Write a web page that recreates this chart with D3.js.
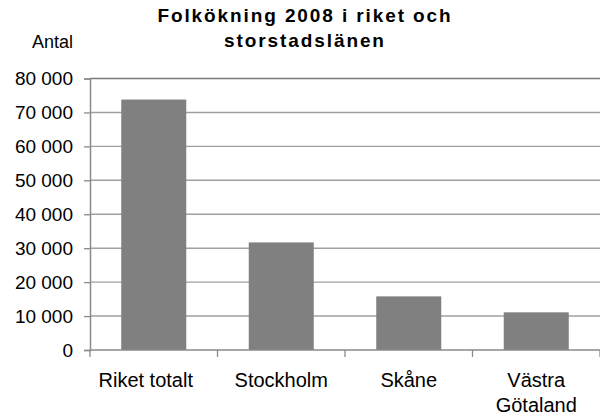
<!DOCTYPE html>
<html lang="sv">
<head>
    <meta charset="UTF-8">
    <title>Folkökning 2008 i riket och storstadslänen</title>
    <script src="https://d3js.org/d3.v7.min.js"></script>
    <style>
        body {
            margin: 0;
            background: #fff;
        }
        svg text {
            font-family: "Liberation Sans", Arial, sans-serif;
            fill: #000;
        }
    </style>
</head>
<body>
    <svg width="600" height="419"></svg>

    <script>
        // Data
        const categories = ["Riket totalt", "Stockholm", "Skåne", "Västra Götaland"];
        const categoryLines = [["Riket totalt"], ["Stockholm"], ["Skåne"], ["Västra", "Götaland"]];
        const values = [73800, 31700, 15800, 11100];
        const yTicks = [0, 10000, 20000, 30000, 40000, 50000, 60000, 70000, 80000];
        const titleLines = ["Folkökning 2008 i riket och", "storstadslänen"];
        const yLabel = "Antal";

        // Plot area
        const plotLeft = 90, plotRight = 600, plotTop = 78.5, plotBottom = 350;
        // first label sits a bit left of its bar, like the original
        const labelShift = [-8, 0, 0, 0];

        const svg = d3.select("svg");

        // Scales
        const xScale = d3.scaleBand()
            .domain(categories)
            .range([plotLeft, plotRight])
            .paddingInner(0.49)
            .paddingOuter(0.245);

        const yScale = d3.scaleLinear()
            .domain([0, 80000])
            .range([plotBottom, plotTop]);

        const fmt = d3.formatLocale({
            decimal: ",", thousands: " ", grouping: [3], currency: ["", " kr"]
        }).format(",d");

        // Gridlines
        svg.append("g")
            .selectAll("line")
            .data(yTicks.filter(d => d > 0))
            .join("line")
            .attr("x1", plotLeft)
            .attr("x2", plotRight)
            .attr("y1", d => yScale(d))
            .attr("y2", d => yScale(d))
            .attr("stroke", d => d === 80000 ? "#7a7a7a" : "#a0a0a0")
            .attr("stroke-width", 1.4);

        // Bars
        svg.append("g")
            .selectAll("rect")
            .data(values)
            .join("rect")
            .attr("x", (d, i) => xScale(categories[i]))
            .attr("width", xScale.bandwidth())
            .attr("y", d => yScale(d))
            .attr("height", d => yScale(0) - yScale(d))
            .attr("fill", "#808080");

        // Y axis
        const yAxis = svg.append("g")
            .attr("transform", `translate(${plotLeft},0)`)
            .call(d3.axisLeft(yScale)
                .tickValues(yTicks)
                .tickFormat(fmt)
                .tickSize(6)
                .tickPadding(11));
        yAxis.select(".domain").attr("stroke", "#8a8a8a").attr("stroke-width", 1.5);
        yAxis.selectAll(".tick line").attr("stroke", "#8a8a8a").attr("stroke-width", 1.3);
        yAxis.selectAll(".tick text")
            .attr("font-size", 19)
            .attr("fill", "#000")
            .style("font-family", "'Liberation Sans', Arial, sans-serif");

        // X axis line and tick marks at category boundaries
        const step = xScale.step();
        const boundaries = d3.range(categories.length + 1).map(i => plotLeft + i * step);
        svg.append("line")
            .attr("x1", plotLeft)
            .attr("x2", plotRight)
            .attr("y1", plotBottom)
            .attr("y2", plotBottom)
            .attr("stroke", "#8a8a8a")
            .attr("stroke-width", 1.5);
        svg.append("g")
            .selectAll("line")
            .data(boundaries)
            .join("line")
            .attr("x1", d => d)
            .attr("x2", d => d)
            .attr("y1", plotBottom)
            .attr("y2", plotBottom + 7)
            .attr("stroke", "#8a8a8a")
            .attr("stroke-width", 1.3);

        // Category labels
        const catText = svg.append("g")
            .selectAll("text")
            .data(categoryLines)
            .join("text")
            .attr("text-anchor", "middle")
            .attr("font-size", 20)
            .attr("y", 387);
        catText.selectAll("tspan")
            .data((d, i) => d.map(t => ({ t, i })))
            .join("tspan")
            .attr("x", d => xScale(categories[d.i]) + xScale.bandwidth() / 2 + labelShift[d.i])
            .attr("dy", (d, j) => j === 0 ? 0 : 25)
            .text(d => d.t);

        // Y label
        svg.append("text")
            .attr("x", 73)
            .attr("y", 48)
            .attr("text-anchor", "end")
            .attr("font-size", 18)
            .text(yLabel);

        // Title
        svg.append("text")
            .attr("text-anchor", "middle")
            .attr("font-size", 19)
            .attr("font-weight", "bold")
            .attr("letter-spacing", 1.9)
            .selectAll("tspan")
            .data(titleLines)
            .join("tspan")
            .attr("x", 305)
            .attr("y", (d, i) => 22 + i * 24.5)
            .text(d => d);
    </script>
</body>
</html>
